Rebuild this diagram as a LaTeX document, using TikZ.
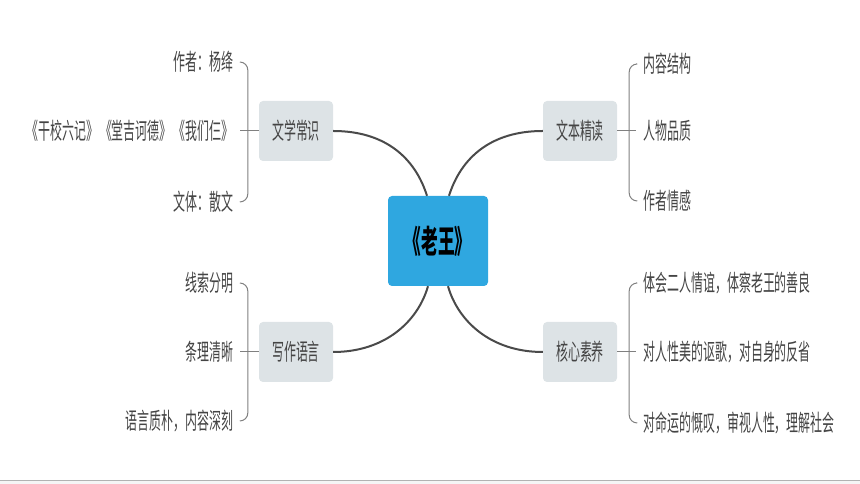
\documentclass[tikz,border=0pt]{standalone}
\usepackage{fontspec}
\setmainfont[FakeStretch=0.52]{Noto Sans CJK SC}
\newfontfamily\titlefont[FakeStretch=0.52,RawFeature=+palt]{Noto Sans CJK SC}
\usetikzlibrary{positioning}
\definecolor{lwblue}{HTML}{2FA7E0}
\definecolor{boxgray}{HTML}{DDE3E6}
\definecolor{linkgray}{HTML}{4A4A4A}
\definecolor{bracegray}{HTML}{808080}
\definecolor{textgray}{HTML}{444444}

\begin{document}
\begin{tikzpicture}[x=1pt,y=1pt,node distance=2cm,
	root/.style={fill=lwblue, rounded corners=4pt, minimum width=100pt, minimum height=90pt, font=\titlefont\bfseries\fontsize{32}{32}\selectfont},
	branch/.style={fill=boxgray, rounded corners=4pt, minimum width=74pt, minimum height=60pt, text=textgray, font=\fontsize{23}{23}\selectfont, on grid},
	leaf/.style={text=textgray, inner sep=0pt, font=\fontsize{23}{23}\selectfont},
	link/.style={draw=linkgray, line width=2pt},
	brace/.style={draw=bracegray, line width=1pt, rounded corners=8pt}]
	      	      			\useasboundingbox (0,0) rectangle (860,484);
	      	      			\fill[gray!8] (0,0) rectangle (860,3);
	      	      			\draw[gray!60, line width=1pt] (0,3) -- (860,3);
	
	      	      			\node[root] (lw) at (438,243) {《老王》};
	      	      			\node[branch] (wxcs) [above left=110pt and 142pt of lw] {文学常识};
	      	      			\node[branch] (wbjd) [above right=110pt and 142pt of lw] {文本精读};
	      	      			\node[branch] (xzyy) [below left=111pt and 142pt of lw] {写作语言};
	      	      			\node[branch] (hxsy) [below right=111pt and 142pt of lw] {核心素养};
	
	      	      			\node[leaf] (wxcs-2) [left=25pt of wxcs] {《干校六记》\hspace{2pt}《堂吉诃德》\hspace{2pt}《我们仨》};
	      	      			\node[leaf, anchor=east] (wxcs-1) at ([yshift=69pt]wxcs-2.east) {作者：杨绛};
	      	      			\node[leaf, anchor=east] (wxcs-3) at ([yshift=-71pt]wxcs-2.east) {文体：散文};
	
	      	      			\node[leaf] (wbjd-2) [right=26pt of wbjd] {人物品质};
	      	      			\node[leaf, anchor=west] (wbjd-1) at ([yshift=67pt]wbjd-2.west) {内容结构};
	      	      			\node[leaf, anchor=west] (wbjd-3) at ([yshift=-70pt]wbjd-2.west) {作者情感};
	
	      	      			\node[leaf] (xzyy-2) [left=25pt of xzyy] {条理清晰};
	      	      			\node[leaf, anchor=east] (xzyy-1) at ([yshift=69pt]xzyy-2.east) {线索分明};
	      	      			\node[leaf, anchor=east] (xzyy-3) at ([yshift=-69pt]xzyy-2.east) {语言质朴，内容深刻};
	
	      	      			\node[leaf] (hxsy-2) [right=26pt of hxsy] {对人性美的讴歌，对自身的反省};
	      	      			\node[leaf, anchor=west] (hxsy-1) at ([yshift=69pt]hxsy-2.west) {体会二人情谊，体察老王的善良};
	      	      			\node[leaf, anchor=west] (hxsy-3) at ([yshift=-71pt]hxsy-2.west) {对命运的慨叹，审视人性，理解社会};
	
	      	      			\draw[link] (wxcs.east) .. controls +(52,0) and +(-12,38) .. ([xshift=-11pt]lw.north);
	      	      			\draw[link] (wbjd.west) .. controls +(-52,0) and +(12,38) .. ([xshift=11pt]lw.north);
	      	      			\draw[link] ([xshift=-10pt]lw.south) .. controls +(-10,-35) and +(52,0) .. (xzyy.east);
	      	      			\draw[link] ([xshift=10pt]lw.south) .. controls +(10,-35) and +(-52,0) .. (hxsy.west);
	
	      	      			\coordinate (wxcs-s) at ([xshift=-19pt]wxcs.west);
	      	      			\coordinate (wbjd-s) at ([xshift=19pt]wbjd.east);
	      	      			\coordinate (xzyy-s) at ([xshift=-19pt]xzyy.west);
	      	      			\coordinate (hxsy-s) at ([xshift=19pt]hxsy.east);
	
	      	      			\draw[brace] (wxcs.west) -- (wxcs-s);
	      	      			\draw[brace] (wxcs-s |- wxcs-1) -| ([xshift=8pt]wxcs-s) |- (wxcs-s |- wxcs-3);
	      	      			\draw[brace] (wbjd.east) -- (wbjd-s);
	      	      			\draw[brace] (wbjd-s |- wbjd-1) -| ([xshift=-7pt]wbjd-s) |- (wbjd-s |- wbjd-3);
	      	      			\draw[brace] (xzyy.west) -- (xzyy-s);
	      	      			\draw[brace] (xzyy-s |- xzyy-1) -| ([xshift=8pt]xzyy-s) |- (xzyy-s |- xzyy-3);
	      	      			\draw[brace] (hxsy.east) -- (hxsy-s);
	      	      			\draw[brace] (hxsy-s |- hxsy-1) -| ([xshift=-7pt]hxsy-s) |- (hxsy-s |- hxsy-3);
	      	      		\end{tikzpicture}
\end{document}
